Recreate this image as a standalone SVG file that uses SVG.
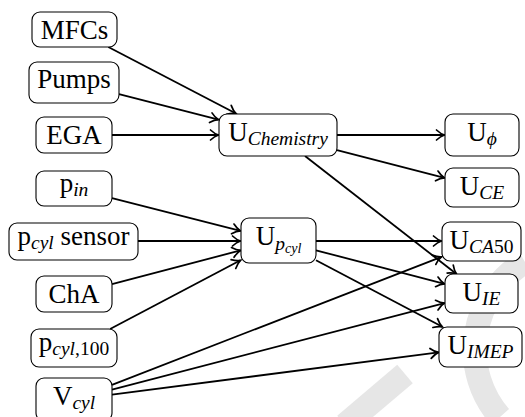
<svg xmlns="http://www.w3.org/2000/svg" width="525" height="417" viewBox="0 0 525 417">
<style>
.box{fill:#fff;stroke:#000;stroke-width:1.1}
text{font-family:'Liberation Serif','DejaVu Serif',serif;font-size:27px;fill:#000;text-anchor:middle}
.s{font-size:19.5px}
.ss{font-size:14px}
.i{font-style:italic}
.e{fill:none;stroke:#000;stroke-width:1.8;marker-end:url(#ah)}
.wm{fill:none;stroke:#e6e6e6;stroke-width:24}
</style>
<defs>
<marker id="ah" markerUnits="userSpaceOnUse" orient="auto" refX="0" refY="0" markerWidth="20" markerHeight="20" viewBox="-10 -10 20 20" overflow="visible">
<path d="M-8,-5 C-5,-2.2 -2,-0.6 0,0 C-2,0.6 -5,2.2 -8,5" fill="none" stroke="#000" stroke-width="1.7" stroke-linecap="round"/>
</marker>
</defs>
<g id="watermark">
<path class="wm" d="M525,262 A102,102 0 0 0 500,417"/>
<path class="wm" d="M345,425 L405,374"/>
</g>
<g id="connectors">
<line class="e" x1="108.3" y1="47" x2="236" y2="113.5"/>
<line class="e" x1="119" y1="94.1" x2="218.5" y2="119.7"/>
<line class="e" x1="112" y1="135" x2="218.5" y2="135"/>
<line class="e" x1="337" y1="135" x2="444.5" y2="135"/>
<line class="e" x1="337" y1="150.2" x2="444.5" y2="177.9"/>
<line class="e" x1="305" y1="156" x2="456.5" y2="274"/>
<line class="e" x1="112" y1="198.2" x2="240.5" y2="230.9"/>
<line class="e" x1="138" y1="241" x2="240.5" y2="241"/>
<line class="e" x1="112" y1="284.1" x2="240.5" y2="250.4"/>
<line class="e" x1="110.1" y1="329" x2="240.5" y2="260.3"/>
<line class="e" x1="316" y1="241" x2="441.5" y2="241"/>
<line class="e" x1="316" y1="250.3" x2="444.5" y2="283.9"/>
<line class="e" x1="316" y1="260.3" x2="442.3" y2="326.8"/>
<line class="e" x1="112" y1="384.8" x2="441.5" y2="256.9"/>
<line class="e" x1="112" y1="389.6" x2="444.5" y2="303.1"/>
<line class="e" x1="112" y1="394.6" x2="438.5" y2="352.4"/>
</g>
<g id="MFCs"><rect class="box" x="32" y="12" width="85" height="35" rx="8"/><text x="74.5" y="38.5">MFCs</text></g>
<g id="Pumps"><rect class="box" x="29" y="62" width="90" height="41" rx="8"/><text x="74" y="88.3">Pumps</text></g>
<g id="EGA"><rect class="box" x="36" y="117" width="76" height="36" rx="8"/><text x="74" y="143.5">EGA</text></g>
<g id="p_in"><rect class="box" x="36" y="171" width="76" height="35" rx="8"/><text x="74" y="192.3">p<tspan class="s i" dy="4">in</tspan></text></g>
<g id="p_cyl_sensor"><rect class="box" x="9" y="223" width="129" height="37" rx="8"/><text x="73.5" y="244.8">p<tspan class="s i" dy="4">cyl</tspan><tspan dy="-4"> sensor</tspan></text></g>
<g id="ChA"><rect class="box" x="36" y="276" width="76" height="36" rx="8"/><text x="74" y="303.3">ChA</text></g>
<g id="p_cyl_100"><rect class="box" x="31" y="329" width="86" height="38" rx="8"/><text x="74" y="350.8">p<tspan class="s i" dy="4">cyl</tspan><tspan class="s">,100</tspan></text></g>
<g id="V_cyl"><rect class="box" x="36" y="378" width="76" height="43" rx="8"/><text x="74" y="404.5">V<tspan class="s i" dy="4">cyl</tspan></text></g>
<g id="U_Chemistry"><rect class="box" x="219" y="114" width="118" height="42" rx="8"/><text x="278" y="140.5">U<tspan class="s i" dy="4">Chemistry</tspan></text></g>
<g id="U_pcyl"><rect class="box" x="241" y="218" width="75" height="45" rx="8"/><text x="278.5" y="244.5">U<tspan class="s i" dy="5">p</tspan><tspan class="ss i" dy="3">cyl</tspan></text></g>
<g id="U_phi"><rect class="box" x="445" y="114" width="74" height="42" rx="8"/><text x="482" y="140.5">U<tspan class="s i" dy="4">ϕ</tspan></text></g>
<g id="U_CE"><rect class="box" x="445" y="168" width="74" height="39" rx="8"/><text x="482" y="194.5">U<tspan class="s i" dy="4">CE</tspan></text></g>
<g id="U_CA50"><rect class="box" x="442" y="222" width="79" height="39" rx="8"/><text x="481.5" y="248.5">U<tspan class="s i" dy="4">CA</tspan><tspan class="s">50</tspan></text></g>
<g id="U_IE"><rect class="box" x="445" y="274" width="73" height="39" rx="8"/><text x="481.5" y="300.5">U<tspan class="s i" dy="4">IE</tspan></text></g>
<g id="U_IMEP"><rect class="box" x="439" y="327" width="83" height="40" rx="8"/><text x="480.5" y="353.5">U<tspan class="s i" dy="4">IMEP</tspan></text></g>
</svg>
